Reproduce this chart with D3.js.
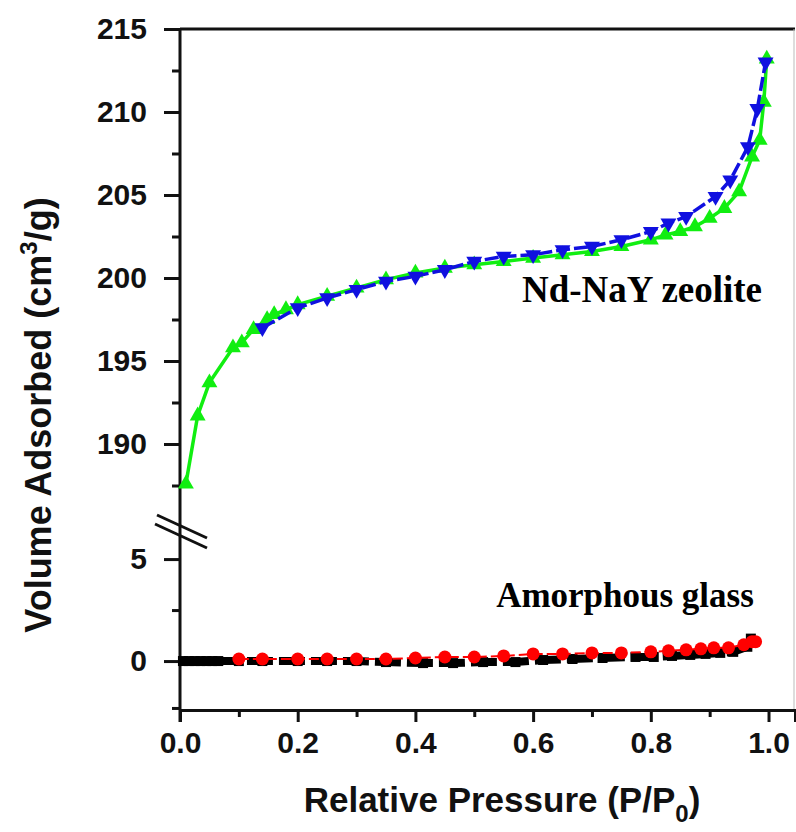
<!DOCTYPE html>
<html>
<head>
<meta charset="utf-8">
<script src="https://cdn.jsdelivr.net/npm/d3@7"></script>
<style>
body { margin: 0; background: #fff; }
text { font-family: Arial, "Liberation Sans", sans-serif; }
</style>
</head>
<body>
<div id="chart"></div>
<script>
// Nd-NaY zeolite, adsorption branch (green, up triangles)
var zeoAdsP = [0.01, 0.03, 0.05, 0.09, 0.105, 0.125, 0.148, 0.16, 0.18, 0.20, 0.25, 0.30, 0.35, 0.40, 0.45, 0.50, 0.55, 0.60, 0.65, 0.70, 0.75, 0.80, 0.825, 0.85, 0.875, 0.90, 0.925, 0.95, 0.972, 0.985, 0.992, 0.997];
var zeoAdsV = [187.6, 191.7, 193.7, 195.8, 196.1, 196.9, 197.5, 197.8, 198.1, 198.4, 198.9, 199.4, 199.9, 200.3, 200.6, 200.8, 201.0, 201.2, 201.4, 201.6, 201.9, 202.3, 202.6, 202.8, 203.1, 203.6, 204.2, 205.2, 207.3, 208.3, 210.6, 213.2];
// Nd-NaY zeolite, desorption branch (blue, down triangles)
var zeoDesP = [0.14, 0.20, 0.25, 0.30, 0.35, 0.40, 0.45, 0.50, 0.55, 0.60, 0.65, 0.70, 0.75, 0.80, 0.83, 0.86, 0.91, 0.935, 0.965, 0.981, 0.995];
var zeoDesV = [197.0, 198.2, 198.8, 199.3, 199.8, 200.1, 200.5, 201.0, 201.3, 201.4, 201.7, 201.9, 202.3, 202.8, 203.3, 203.7, 204.9, 205.9, 207.9, 210.2, 213.0];
// amorphous glass, adsorption (black squares)
var glassAdsP = [0.005, 0.015, 0.025, 0.035, 0.045, 0.055, 0.065, 0.10, 0.14, 0.20, 0.25, 0.30, 0.35, 0.413, 0.464, 0.515, 0.57, 0.617, 0.667, 0.718, 0.774, 0.805, 0.836, 0.867, 0.893, 0.918, 0.94, 0.964, 0.97];
var glassAdsV = [0.0, 0.0, 0.0, 0.0, 0.0, 0.0, 0.0, 0.0, 0.0, 0.0, 0.0, 0.0, -0.05, -0.1, -0.1, -0.05, -0.05, 0.05, 0.1, 0.15, 0.2, 0.2, 0.25, 0.3, 0.35, 0.4, 0.45, 0.7, 1.1];
// amorphous glass, desorption (red circles)
var glassDesP = [0.10, 0.14, 0.20, 0.25, 0.30, 0.35, 0.40, 0.45, 0.50, 0.55, 0.60, 0.65, 0.70, 0.75, 0.80, 0.83, 0.86, 0.885, 0.907, 0.932, 0.958, 0.972, 0.978];
var glassDesV = [0.1, 0.1, 0.1, 0.1, 0.1, 0.1, 0.15, 0.2, 0.2, 0.25, 0.35, 0.35, 0.4, 0.4, 0.45, 0.5, 0.55, 0.6, 0.65, 0.65, 0.8, 0.95, 0.95];

var xTicks = [0.0, 0.2, 0.4, 0.6, 0.8, 1.0];
var upperTicks = [190, 195, 200, 205, 210, 215];
var lowerTicks = [0, 5];

var dim = {
    'width': 796,
    'height': 832,
    'left': 180,
    'right': 795,
    'top': 29,
    'bottom': 710
};

var svg = d3.select("#chart").append('svg')
    .attr('width', dim.width)
    .attr('height', dim.height);

var xScale = d3.scaleLinear().domain([0, 1.045]).range([dim.left, dim.right]);
var yUpper = d3.scaleLinear().domain([185.5, 215]).range([518.7, dim.top]);
var yLower = d3.scaleLinear().domain([-2.4, 6.2]).range([dim.bottom, 534.6]);

function zip(xs, ys) {
    return xs.map((x, i) => ({ x: x, y: ys[i] }));
}

// frame: top and right
svg.append('line')
    .attr('x1', dim.left).attr('x2', dim.right)
    .attr('y1', dim.top).attr('y2', dim.top)
    .attr('stroke', '#111').attr('stroke-width', 3);
svg.append('line')
    .attr('x1', dim.right - 1).attr('x2', dim.right - 1)
    .attr('y1', dim.top).attr('y2', dim.bottom)
    .attr('stroke', '#bbb').attr('stroke-width', 1);

// x axis
var xAxis = d3.axisBottom(xScale)
    .tickValues(xTicks)
    .tickFormat(d3.format('.1f'))
    .tickSize(12)
    .tickPadding(10);
var gx = svg.append('g').attr('transform', `translate(0,${dim.bottom})`).call(xAxis);
var xMinor = d3.axisBottom(xScale)
    .tickValues([0.1, 0.3, 0.5, 0.7, 0.9])
    .tickSize(7)
    .tickFormat('');
var gxm = svg.append('g').attr('transform', `translate(0,${dim.bottom})`).call(xMinor);
gxm.select('.domain').remove();

// y axis upper
var yAxisU = d3.axisLeft(yUpper).tickValues(upperTicks).tickSize(16).tickPadding(17);
var gyu = svg.append('g').attr('transform', `translate(${dim.left},0)`).call(yAxisU);
var yMinorU = d3.axisLeft(yUpper).tickValues([187.5, 192.5, 197.5, 202.5, 207.5, 212.5]).tickSize(8).tickFormat('');
svg.append('g').attr('transform', `translate(${dim.left},0)`).call(yMinorU).select('.domain').remove();

// y axis lower
var yAxisL = d3.axisLeft(yLower).tickValues(lowerTicks).tickSize(16).tickPadding(17);
var gyl = svg.append('g').attr('transform', `translate(${dim.left},0)`).call(yAxisL);
var yMinorL = d3.axisLeft(yLower).tickValues([-2.3, 2.5]).tickSize(8).tickFormat('');
svg.append('g').attr('transform', `translate(${dim.left},0)`).call(yMinorL).select('.domain').remove();

// continuous left spine
gyu.select('.domain').remove();
gyl.select('.domain').remove();
svg.append('line')
    .attr('x1', dim.left).attr('x2', dim.left)
    .attr('y1', dim.top).attr('y2', dim.bottom + 12)
    .attr('stroke', '#111').attr('stroke-width', 3);

svg.selectAll('.domain').attr('stroke', '#111').attr('stroke-width', 3);
svg.selectAll('.tick line').attr('stroke', '#111').attr('stroke-width', 3);
svg.selectAll('.tick text')
    .attr('fill', '#111')
    .style('font-size', '30px')
    .style('font-weight', 'bold')
    .style('font-family', 'Arial, "Liberation Sans", sans-serif');

// axis break marks
var brk = [[157, 515, 207, 538], [155, 524, 207, 548]];
svg.selectAll('.brk').data(brk).enter().append('line')
    .attr('x1', d => d[0]).attr('y1', d => d[1])
    .attr('x2', d => d[2]).attr('y2', d => d[3])
    .attr('stroke', '#111').attr('stroke-width', 3);

// series
var lineU = d3.line().x(d => xScale(d.x)).y(d => yUpper(d.y));
var lineL = d3.line().x(d => xScale(d.x)).y(d => yLower(d.y));

var glassAds = zip(glassAdsP, glassAdsV);
var glassDes = zip(glassDesP, glassDesV);
var zeoAds = zip(zeoAdsP, zeoAdsV);
var zeoDes = zip(zeoDesP, zeoDesV);

svg.append('path').datum(glassAds)
    .attr('d', lineL).attr('fill', 'none')
    .attr('stroke', '#000').attr('stroke-width', 8)
    .attr('stroke-dasharray', '26,6');
svg.selectAll('.sq').data(glassAds).enter().append('path')
    .attr('d', d3.symbol().type(d3.symbolSquare).size(100))
    .attr('transform', d => `translate(${xScale(d.x)},${yLower(d.y)})`)
    .attr('fill', '#000');

svg.append('path').datum(glassDes)
    .attr('d', lineL).attr('fill', 'none')
    .attr('stroke', '#f00').attr('stroke-width', 2)
    .attr('stroke-dasharray', '10,4');
svg.selectAll('.dot').data(glassDes).enter().append('circle')
    .attr('cx', d => xScale(d.x))
    .attr('cy', d => yLower(d.y))
    .attr('r', 6.5)
    .attr('fill', '#f00');

svg.append('path').datum(zeoAds)
    .attr('d', lineU).attr('fill', 'none')
    .attr('stroke', '#11ee11').attr('stroke-width', 3.5);
svg.selectAll('.up').data(zeoAds).enter().append('path')
    .attr('d', d3.symbol().type(d3.symbolTriangle).size(110))
    .attr('transform', d => `translate(${xScale(d.x)},${yUpper(d.y)})`)
    .attr('fill', '#11ee11');

svg.append('path').datum(zeoDes)
    .attr('d', lineU).attr('fill', 'none')
    .attr('stroke', '#1010e0').attr('stroke-width', 3.5)
    .attr('stroke-dasharray', '14,4');
svg.selectAll('.down').data(zeoDes).enter().append('path')
    .attr('d', d3.symbol().type(d3.symbolTriangle).size(110))
    .attr('transform', d => `translate(${xScale(d.x)},${yUpper(d.y)}) rotate(180)`)
    .attr('fill', '#1010e0');

// labels
svg.append('text')
    .attr('x', 642).attr('y', 302)
    .attr('text-anchor', 'middle')
    .style('font-family', '"Times New Roman", "Liberation Serif", serif')
    .style('font-weight', 'bold').style('font-size', '37px')
    .text('Nd-NaY zeolite');
svg.append('text')
    .attr('x', 625).attr('y', 607)
    .attr('text-anchor', 'middle')
    .style('font-family', '"Times New Roman", "Liberation Serif", serif')
    .style('font-weight', 'bold').style('font-size', '35px')
    .text('Amorphous glass');

var xt = svg.append('text')
    .attr('x', 502).attr('y', 812)
    .attr('text-anchor', 'middle')
    .style('font-weight', 'bold').style('font-size', '35px')
    .attr('fill', '#111');
xt.append('tspan').text('Relative Pressure (P/P');
xt.append('tspan').attr('dy', 10).style('font-size', '24px').text('0');
xt.append('tspan').attr('dy', -10).text(')');

var yt = svg.append('text')
    .attr('transform', 'translate(51,415) rotate(-90)')
    .attr('text-anchor', 'middle')
    .style('font-weight', 'bold').style('font-size', '36px')
    .attr('fill', '#111');
yt.append('tspan').text('Volume Adsorbed  (cm');
yt.append('tspan').attr('dy', -14).style('font-size', '24px').text('3');
yt.append('tspan').attr('dy', 14).text('/g)');
</script>
</body>
</html>
